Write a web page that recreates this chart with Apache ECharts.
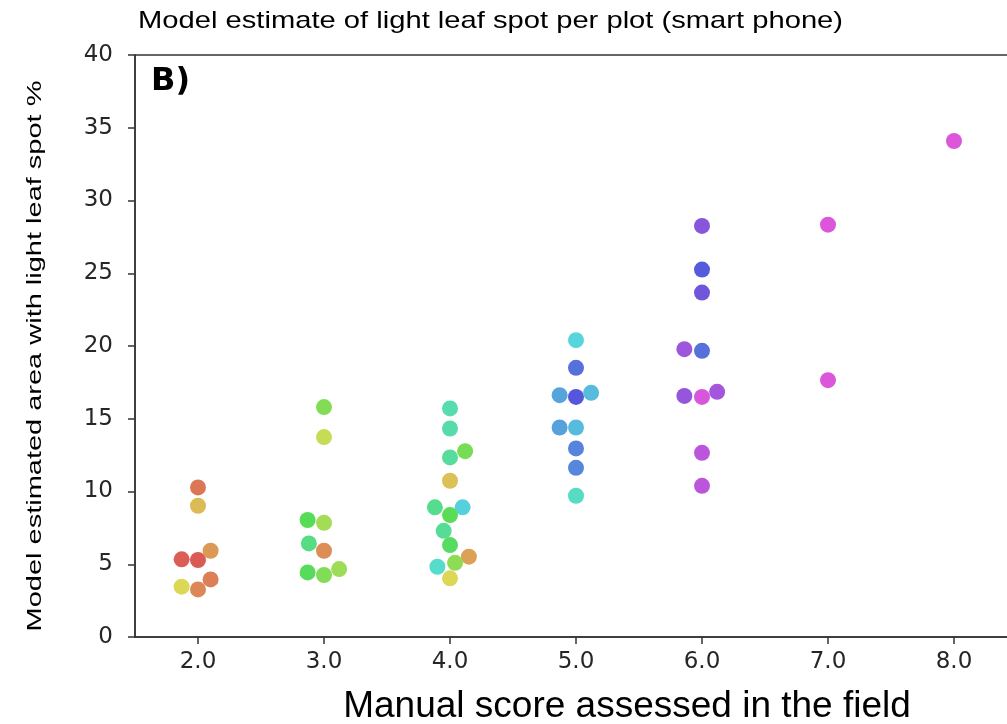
<!DOCTYPE html>
<html>
<head>
<meta charset="utf-8">
<script src="https://cdn.jsdelivr.net/npm/echarts@6/dist/echarts.min.js"></script>
<style>
  html, body { margin: 0; padding: 0; background: #fff; }
  #chart { width: 1007px; height: 724px; }
</style>
</head>
<body>
<div id="chart"></div>
<script>
// manual field score (category) of each plot
const scores = [
  2, 2, 2, 2, 2, 2, 2, 2,
  3, 3, 3, 3, 3, 3, 3, 3, 3,
  4, 4, 4, 4, 4, 4, 4, 4, 4, 4, 4, 4, 4, 4,
  5, 5, 5, 5, 5, 5, 5, 5, 5, 5,
  6, 6, 6, 6, 6, 6, 6, 6, 6, 6,
  7, 7,
  8
];
// swarm spread of each dot around its category
const swarmOffset = [
  0, 0, -0.13, 0, 0.10, -0.13, 0, 0.10,
  0, 0, -0.13, 0, -0.12, 0, -0.13, 0, 0.12,
  0, 0, 0, 0.12, 0, -0.12, 0.10, 0, -0.05, 0, 0.15, -0.10, 0.04, 0,
  0, 0, -0.13, 0, 0.12, -0.13, 0, 0, 0, 0,
  0, 0, 0, -0.14, 0, -0.14, 0, 0.12, 0, 0,
  0, 0,
  0
];
// model estimated area with light leaf spot (%)
const estimates = [
  10.28, 9.02, 5.34, 5.29, 5.93, 3.46, 3.27, 3.96,
  15.8, 13.74, 8.04, 7.85, 6.43, 5.93, 4.44, 4.26, 4.67,
  15.71, 14.33, 12.34, 12.77, 10.74, 8.91, 8.91, 8.38, 7.30, 6.32, 5.52, 4.83, 5.10, 4.03,
  20.40, 18.50, 16.62, 16.50, 16.78, 14.40, 14.40, 12.96, 11.63, 9.71,
  28.25, 25.25, 23.67, 19.78, 19.67, 16.57, 16.50, 16.85, 12.66, 10.39,
  28.34, 17.65,
  34.09
];
// hue (degrees) of each dot
const hues = [
  15, 45, 3, 2, 30, 58, 22, 18,
  100, 70, 120, 85, 140, 25, 122, 100, 88,
  160, 158, 152, 105, 48, 145, 185, 118, 148, 125, 33, 172, 95, 58,
  183, 228, 205, 240, 195, 207, 195, 220, 218, 168,
  262, 238, 252, 272, 228, 268, 298, 275, 285, 285,
  300, 300,
  300
];
const xTicks = [2, 3, 4, 5, 6, 7, 8];

const points = scores.map((s, i) => [s + swarmOffset[i], estimates[i], hues[i]]);

const chart = echarts.init(document.getElementById('chart'));

const option = {
  animation: false,
  grid: {
    left: 135,
    top: 55,
    width: 882,
    bottom: 87,
    outerBoundsMode: 'none',
    show: true,
    borderColor: '#333',
    borderWidth: 1.5
  },
  xAxis: {
    type: 'value',
    min: 1.5,
    max: 8.5,
    splitLine: { show: false },
    axisLine: { lineStyle: { color: '#333', width: 1.5 } },
    axisTick: {
      customValues: xTicks,
      length: 7,
      lineStyle: { color: '#333', width: 1.5 }
    },
    axisLabel: {
      customValues: xTicks,
      formatter: v => v.toFixed(1),
      margin: 14,
      fontFamily: 'DejaVu Sans',
      fontSize: 23,
      color: '#262626'
    }
  },
  yAxis: {
    type: 'value',
    min: 0,
    max: 40,
    interval: 5,
    splitLine: { show: false },
    axisLine: { show: true, lineStyle: { color: '#333', width: 1.5 } },
    axisTick: { show: true, length: 7, lineStyle: { color: '#333', width: 1.5 } },
    axisLabel: {
      margin: 22,
      fontFamily: 'DejaVu Sans',
      fontSize: 23,
      color: '#262626'
    }
  },
  graphic: [
    {
      // title, stretched like the original figure
      type: 'text',
      x: 138,
      y: 21,
      scaleX: 1.215,
      style: {
        text: 'Model estimate of light leaf spot per plot (smart phone)',
        fontFamily: 'Liberation Sans',
        fontSize: 24,
        fill: '#000',
        align: 'left',
        verticalAlign: 'middle'
      }
    },
    {
      type: 'text',
      left: 151,
      top: 66,
      style: {
        text: 'B)',
        fontFamily: 'DejaVu Sans',
        fontWeight: 'bold',
        fontSize: 32,
        fill: '#000'
      }
    },
    {
      type: 'text',
      x: 25,
      y: 356,
      rotation: Math.PI / 2,
      scaleX: 1.38,
      style: {
        text: 'Model estimated area with light leaf spot %',
        fontFamily: 'Liberation Sans',
        fontSize: 21,
        fill: '#000',
        align: 'center',
        verticalAlign: 'top'
      }
    },
    {
      type: 'text',
      x: 627,
      y: 707,
      style: {
        text: 'Manual score assessed in the field',
        fontFamily: 'Liberation Sans',
        fontSize: 37,
        fill: '#000',
        align: 'center',
        verticalAlign: 'middle'
      }
    }
  ],
  series: [
    {
      type: 'scatter',
      data: points,
      symbolSize: 16,
      itemStyle: {
        opacity: 1,
        color: p => 'hsl(' + p.value[2] + ', 66%, 60%)'
      }
    }
  ]
};

chart.setOption(option);
window.addEventListener('resize', () => chart.resize());
</script>
</body>
</html>
